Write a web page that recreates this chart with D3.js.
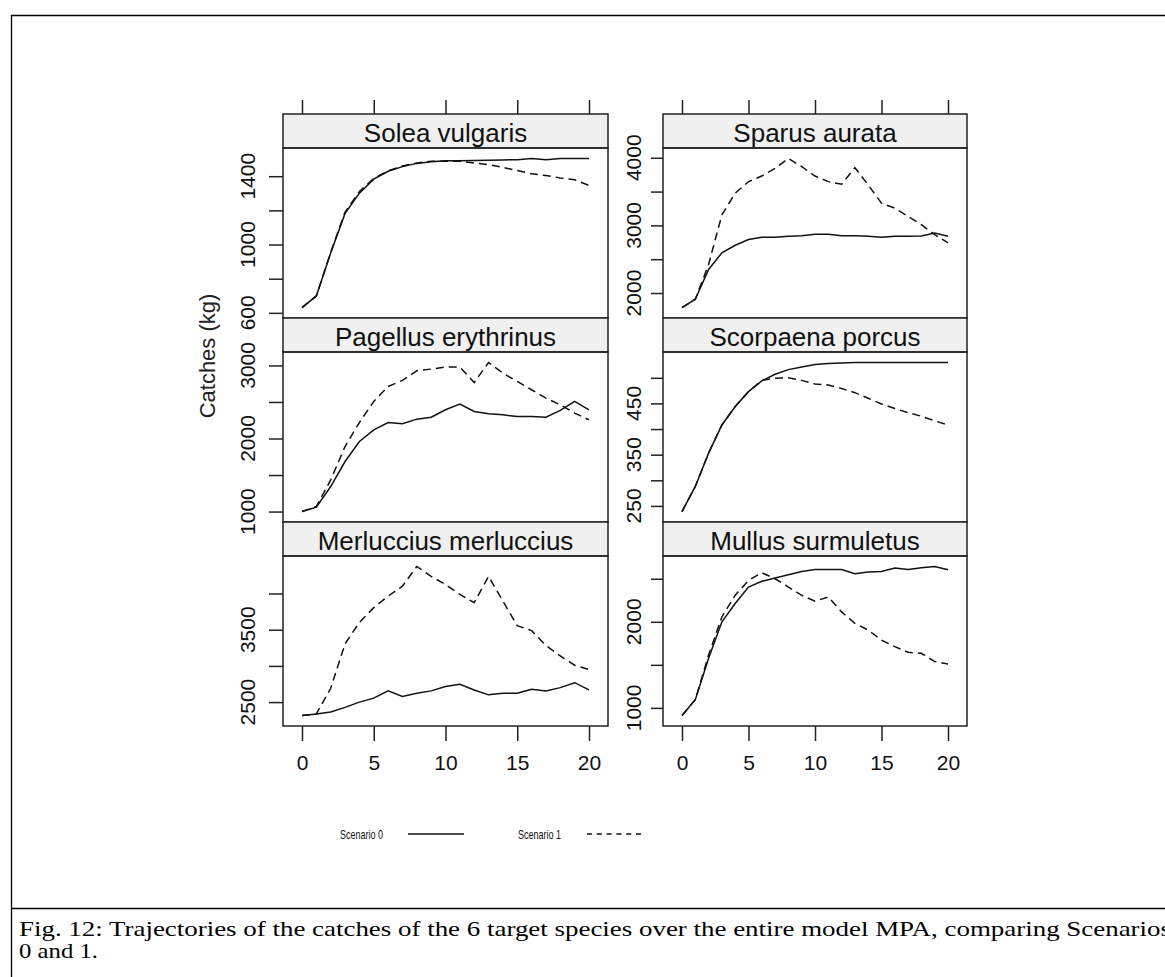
<!DOCTYPE html>
<html>
<head>
<meta charset="utf-8">
<script src="https://cdn.jsdelivr.net/npm/d3@7"></script>
<style>
  body { margin: 0; background: #fff; }
  svg { display: block; }
</style>
</head>
<body>
<div id="fig"></div>
<script>
// years simulated
const years = [0,1,2,3,4,5,6,7,8,9,10,11,12,13,14,15,16,17,18,19,20];
const xTicks = [0, 5, 10, 15, 20];

// catches (kg), scenario 0 (solid) and scenario 1 (dashed)
const soleaS0 = [631,699,950,1182,1301,1383,1429,1456,1475,1485,1491,1491,1492,1494,1495,1497,1503,1497,1503,1504,1504];
const soleaS1 = [631,699,955,1190,1310,1387,1432,1460,1478,1487,1488,1487,1477,1468,1452,1433,1414,1404,1390,1379,1346];
const sparusS0 = [1785,1908,2349,2594,2706,2790,2824,2824,2839,2848,2868,2868,2848,2848,2839,2824,2839,2839,2844,2888,2839];
const sparusS1 = [1785,1908,2422,3157,3476,3647,3730,3843,3990,3868,3730,3647,3608,3853,3598,3329,3255,3133,3010,2863,2741];
const pagellusS0 = [1000,1060,1343,1685,1959,2119,2219,2201,2265,2292,2393,2470,2370,2338,2324,2301,2301,2292,2384,2507,2393];
const pagellusS1 = [1000,1069,1434,1890,2219,2507,2712,2795,2927,2950,2977,2977,2767,3041,2895,2781,2667,2553,2461,2347,2256];
const scorpaenaS0 = [239,288,353,408,444,473,494,507,516,521,526,528,529,530,530,530,530,530,530,530,530];
const scorpaenaS1 = [239,288,353,408,444,473,495,499,500,495,488,486,479,471,460,449,440,432,425,416,408];
const merlucciusS0 = [2314,2336,2364,2427,2500,2555,2655,2577,2623,2655,2714,2746,2668,2600,2623,2623,2677,2655,2700,2768,2668];
const merlucciusS1 = [2314,2336,2691,3305,3601,3805,3964,4101,4374,4237,4124,3987,3873,4237,3896,3555,3487,3282,3137,3009,2950];
const mullusS0 = [911,1095,1577,2000,2212,2404,2470,2508,2547,2585,2608,2608,2608,2558,2577,2585,2624,2608,2627,2643,2604];
const mullusS1 = [911,1095,1615,2058,2308,2481,2570,2500,2404,2308,2239,2289,2115,1981,1904,1788,1711,1646,1634,1538,1511];

// panel names, y ticks and the ticks that carry a label
const speciesNames = ["Solea vulgaris", "Sparus aurata", "Pagellus erythrinus",
                      "Scorpaena porcus", "Merluccius merluccius", "Mullus surmuletus"];
const yTickSets = [
  [600,800,1000,1200,1400],
  [2000,2500,3000,3500,4000],
  [1000,1500,2000,2500,3000],
  [250,300,350,400,450,500],
  [2500,3000,3500,4000],
  [1000,1500,2000,2500]
];
const yLabelSets = [
  [600,1000,1400],
  [2000,3000,4000],
  [1000,2000,3000],
  [250,350,450],
  [2500,3500],
  [1000,2000]
];
const scenario0 = [soleaS0, sparusS0, pagellusS0, scorpaenaS0, merlucciusS0, mullusS0];
const scenario1 = [soleaS1, sparusS1, pagellusS1, scorpaenaS1, merlucciusS1, mullusS1];
const legendLabels = ["Scenario 0", "Scenario 1"];

const W = 1165, H = 977;
const sans = "'Liberation Sans', Arial, sans-serif";

// panel layout: two columns, three rows, strip on top of every panel
const cols = [{x0: 283, x1: 608, pad: 19, tick: 14, labX: 247},
              {x0: 663, x1: 967, pad: 19, tick: 12, labX: 633}];
const rowTop = 114, rowStep = 204, stripH = 34, plotH = 170;

const svg = d3.select("#fig")
  .append("svg")
    .attr("width", W)
    .attr("height", H);

// page frame and caption separator
svg.append("path")
  .attr("d", `M11.5,${H + 5}V15.5H${W + 5}`)
  .attr("fill", "none").attr("stroke", "#000").attr("stroke-width", 1.3);
svg.append("line")
  .attr("x1", 11.5).attr("x2", W + 5).attr("y1", 908.5).attr("y2", 908.5)
  .attr("stroke", "#000").attr("stroke-width", 1.3);

const lineGen = (x, y) => d3.line()
  .x((d, i) => x(years[i]))
  .y(d => y(d));

speciesNames.forEach((name, k) => {
  const col = cols[k % 2], row = Math.floor(k / 2);
  const top = rowTop + row * rowStep + stripH;
  const bottom = top + plotH;

  const x = d3.scaleLinear()
    .domain([0, 20])
    .range([col.x0 + col.pad, col.x1 - col.pad]);

  // lattice style: data extent padded by 7% each side
  const ext = d3.extent(scenario0[k].concat(scenario1[k]));
  const padY = (ext[1] - ext[0]) * 0.07;
  const y = d3.scaleLinear()
    .domain([ext[0] - padY, ext[1] + padY])
    .range([bottom, top]);

  const g = svg.append("g");

  // strip
  g.append("rect")
    .attr("x", col.x0).attr("y", top - stripH)
    .attr("width", col.x1 - col.x0).attr("height", stripH)
    .attr("fill", "#f0f0f0").attr("stroke", "#222").attr("stroke-width", 1.5);
  g.append("text")
    .attr("x", (col.x0 + col.x1) / 2).attr("y", top - 6)
    .attr("text-anchor", "middle")
    .attr("font-family", sans).attr("font-size", 26)
    .attr("fill", "#111")
    .text(name);

  // clip lines to the panel
  g.append("clipPath").attr("id", "clip" + k)
    .append("rect")
      .attr("x", col.x0).attr("y", top)
      .attr("width", col.x1 - col.x0).attr("height", plotH);

  const lines = g.append("g").attr("clip-path", `url(#clip${k})`);
  lines.append("path")
    .datum(scenario0[k])
    .attr("fill", "none").attr("stroke", "#111").attr("stroke-width", 1.5)
    .attr("d", lineGen(x, y));
  lines.append("path")
    .datum(scenario1[k])
    .attr("fill", "none").attr("stroke", "#111").attr("stroke-width", 1.5)
    .attr("stroke-dasharray", "8,5")
    .attr("d", lineGen(x, y));

  // panel box
  g.append("rect")
    .attr("x", col.x0).attr("y", top)
    .attr("width", col.x1 - col.x0).attr("height", plotH)
    .attr("fill", "none").attr("stroke", "#222").attr("stroke-width", 1.5);

  // y axis on the left of each panel
  const yAxis = g.append("g")
    .attr("transform", `translate(${col.x0},0)`)
    .call(d3.axisLeft(y).tickValues(yTickSets[k]).tickSize(col.tick).tickFormat(""));
  yAxis.select(".domain").remove();
  yAxis.selectAll(".tick line").attr("stroke", "#222").attr("stroke-width", 1.5);

  g.selectAll(".ylab")
    .data(yLabelSets[k])
    .join("text")
      .attr("class", "ylab")
      .attr("transform", d => `translate(${col.labX},${y(d)}) rotate(-90)`)
      .attr("text-anchor", "middle")
      .attr("dy", "0.36em")
      .attr("font-family", sans).attr("font-size", 21)
      .attr("fill", "#111")
      .text(d => d);

  // x ticks on top of the first row, ticks + labels under the last row
  if (row === 0) {
    const xTop = g.append("g")
      .attr("transform", `translate(0,${top - stripH})`)
      .call(d3.axisTop(x).tickValues(xTicks).tickSize(14).tickFormat(""));
    xTop.select(".domain").remove();
    xTop.selectAll(".tick line").attr("stroke", "#222").attr("stroke-width", 1.5);
  }
  if (row === 2) {
    const xBot = g.append("g")
      .attr("transform", `translate(0,${bottom})`)
      .call(d3.axisBottom(x).tickValues(xTicks).tickSize(15).tickPadding(14));
    xBot.select(".domain").remove();
    xBot.selectAll(".tick line").attr("stroke", "#222").attr("stroke-width", 1.5);
    xBot.selectAll(".tick text")
      .attr("font-family", sans).attr("font-size", 21).attr("fill", "#111");
  }
});

// shared y label
svg.append("text")
  .attr("transform", "translate(207,356) rotate(-90)")
  .attr("text-anchor", "middle")
  .attr("dy", "0.36em")
  .attr("font-family", sans).attr("font-size", 22)
  .attr("fill", "#222")
  .text("Catches (kg)");

// legend
const legend = [
  {label: legendLabels[0], tx: 340, lx0: 408, lx1: 464, dash: null},
  {label: legendLabels[1], tx: 518, lx0: 587, lx1: 641, dash: "5,4.8"}
];
legend.forEach(d => {
  svg.append("text")
    .attr("x", d.tx).attr("y", 839)
    .attr("font-family", sans).attr("font-size", 13)
    .attr("textLength", 43).attr("lengthAdjust", "spacingAndGlyphs")
    .attr("fill", "#111")
    .text(d.label);
  svg.append("line")
    .attr("x1", d.lx0).attr("x2", d.lx1).attr("y1", 834).attr("y2", 834)
    .attr("stroke", "#111").attr("stroke-width", 1.6)
    .attr("stroke-dasharray", d.dash);
});

// caption
const caption = svg.append("text")
  .attr("font-family", "'Liberation Serif', 'Times New Roman', serif")
  .attr("font-size", 21)
  .attr("fill", "#000");
caption.append("tspan").attr("x", 19).attr("y", 936)
  .attr("textLength", 1152).attr("lengthAdjust", "spacingAndGlyphs")
  .text("Fig. 12: Trajectories of the catches of the 6 target species over the entire model MPA, comparing Scenarios");
caption.append("tspan").attr("x", 19).attr("y", 958)
  .attr("textLength", 79).attr("lengthAdjust", "spacingAndGlyphs")
  .text("0 and 1.");
</script>
</body>
</html>
